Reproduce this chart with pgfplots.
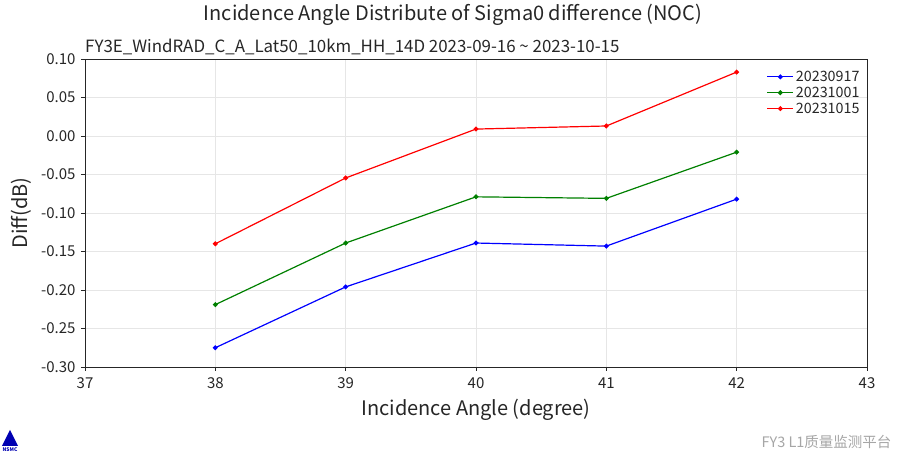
\documentclass[border=0pt]{standalone}
\usepackage{pgfplots}
\pgfplotsset{compat=1.18}
\usepackage{fontspec}
\setmainfont{Noto Sans CJK SC}
\definecolor{mplgreen}{RGB}{0,128,0}
\definecolor{gridgray}{RGB}{230,230,230}
\definecolor{txt}{RGB}{38,38,38}
\begin{document}
\begin{tikzpicture}[x=1pt,y=1pt]
  \path[use as bounding box] (0,0) rectangle (897,454);
  % titles
  \node[text=txt,font=\fontsize{20}{23}\selectfont] at (453,439) {Incidence Angle Distribute of Sigma0 difference (NOC)};
  \node[text=txt,anchor=base west,inner sep=0pt,font=\fontsize{16.9}{19}\selectfont] at (85,401) {FY3E\_WindRAD\_C\_A\_Lat50\_10km\_HH\_14D 2023-09-16 \textasciitilde{} 2023-10-15};
  \begin{axis}[
      at={(85pt,87pt)}, anchor=south west,
      width=782pt, height=308pt, scale only axis,
      xmin=37, xmax=43,
      ymin=-0.30, ymax=0.10,
      xtick={37,38,...,43},
      ytick={-0.30,-0.25,...,0.10},
      yticklabel style={xshift=-2pt,/pgf/number format/.cd,fixed,fixed zerofill,precision=2},
      /pgf/number format/assume math mode=true,
      ticklabel style={font=\fontsize{15}{17}\selectfont, text=txt},
      xticklabel style={yshift=-3pt},
      tick align=outside,
      tick style={txt, line width=0.8pt},
      major tick length=4pt,
      xtick pos=bottom, ytick pos=left,
      grid=major,
      grid style={gridgray, line width=0.8pt},
      axis line style={txt, line width=0.8pt},
      xlabel={Incidence Angle (degree)},
      ylabel={Diff(dB)},
      label style={font=\fontsize{20}{23}\selectfont, text=txt},
      xlabel style={yshift=-4pt},
      ylabel style={yshift=3pt},
      legend style={at={(0.997,0.975)}, anchor=north east, draw=none, fill=none,
        font=\fontsize{14.3}{16}\selectfont, row sep=0pt, text=txt},
      legend cell align=left,
      legend image code/.code={
        \draw[mark repeat=2,mark phase=2] plot coordinates {(0pt,0pt) (13pt,0pt) (26pt,0pt)};
      },
      every axis plot/.append style={line width=1.2pt, mark=*, mark size=1.8pt},
    ]
    \addplot[blue, mark options={fill=blue}] coordinates {
      (38,-0.275) (39,-0.196) (40,-0.139) (41,-0.143) (42,-0.082)
    };
    \addlegendentry{20230917}
    \addplot[mplgreen, mark options={fill=mplgreen}] coordinates {
      (38,-0.219) (39,-0.139) (40,-0.079) (41,-0.081) (42,-0.021)
    };
    \addlegendentry{20231001}
    \addplot[red, mark options={fill=red}] coordinates {
      (38,-0.140) (39,-0.0545) (40,0.009) (41,0.013) (42,0.083)
    };
    \addlegendentry{20231015}
  \end{axis}
  % footer
  \node[anchor=east,text=gray!70,font=\fontsize{14.5}{16}\selectfont] at (895,12) {FY3 L1质量监测平台};
  \fill[blue!70!black] (2,8) -- (18,8) -- (10,24) -- cycle;
  \node[text=blue!70!black,font=\fontsize{5}{6}\selectfont\bfseries,inner sep=0pt] at (10,4) {NSMC};
\end{tikzpicture}
\end{document}
